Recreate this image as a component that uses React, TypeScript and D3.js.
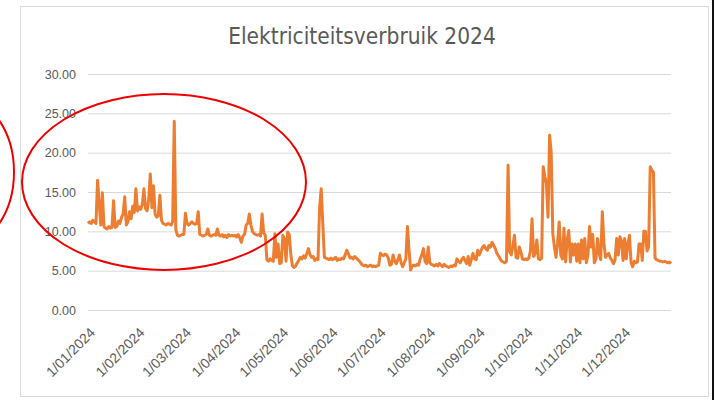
import React, { useEffect, useRef } from 'react';
import * as d3 from 'd3';

// daily consumption per month (kWh)
const jan = [11.0, 11.2, 11.0, 11.4, 11.2, 11.0, 16.5, 13.5, 10.8, 14.9, 10.6, 10.4, 10.3, 10.6, 10.4, 10.5, 13.9, 10.5, 10.6, 11.3, 11.0, 11.8, 12.2, 14.4, 10.8, 11.2, 12.5, 11.6, 13.2, 12.4, 15.4];
const feb = [12.6, 13.1, 12.8, 13.4, 15.4, 12.9, 12.6, 14.0, 17.3, 13.0, 15.8, 12.2, 11.8, 12.0, 14.6, 11.4, 11.0, 10.9, 10.8, 11.0, 10.9, 10.8, 11.2, 24.0, 10.2, 9.5, 9.4, 9.5, 9.6];
const mar = [9.6, 12.3, 11.0, 10.8, 11.0, 11.2, 11.0, 10.9, 11.0, 12.5, 9.6, 9.5, 9.4, 9.5, 9.6, 10.3, 9.5, 9.4, 9.5, 9.6, 9.5, 10.3, 9.5, 9.4, 9.6, 9.3, 9.5, 9.2, 9.6, 9.4, 9.5];
const apr = [9.4, 9.5, 9.3, 9.6, 9.2, 8.6, 9.4, 9.6, 10.8, 11.0, 12.2, 10.8, 10.0, 9.7, 9.6, 9.5, 9.6, 9.4, 12.2, 9.8, 9.5, 6.4, 6.2, 6.5, 6.3, 6.2, 9.7, 6.7, 8.4, 5.9];
const may = [6.0, 9.5, 9.0, 6.2, 9.9, 9.6, 7.0, 5.6, 5.4, 5.6, 6.0, 6.3, 6.7, 6.5, 6.9, 6.6, 7.2, 7.8, 7.0, 6.7, 6.8, 6.3, 6.5, 6.4, 13.0, 15.4, 11.0, 6.7, 6.6, 6.5, 6.4];
const jun = [6.6, 6.4, 6.5, 6.7, 6.3, 6.5, 6.4, 6.6, 6.5, 7.0, 7.6, 7.2, 6.6, 6.7, 6.5, 6.8, 6.6, 6.4, 6.2, 5.9, 5.7, 5.6, 5.7, 5.5, 5.6, 5.7, 5.5, 5.6, 5.5, 5.6];
const jul = [5.7, 7.2, 7.0, 6.9, 7.1, 7.0, 6.6, 5.7, 5.8, 7.0, 6.2, 5.9, 6.4, 7.0, 6.0, 5.5, 6.0, 6.5, 10.6, 7.6, 5.1, 5.6, 5.7, 5.6, 5.8, 5.7, 6.5, 7.0, 7.8, 6.2, 5.9];
const aug = [8.0, 6.0, 5.8, 5.7, 5.6, 5.8, 5.6, 5.9, 5.7, 5.5, 5.8, 5.6, 5.5, 5.4, 5.6, 5.5, 5.7, 5.6, 6.5, 6.2, 6.0, 6.4, 6.7, 6.3, 5.9, 6.8, 5.7, 6.4, 7.2, 6.5, 6.4];
const sep = [7.6, 7.0, 7.5, 8.0, 8.2, 7.8, 7.6, 8.2, 8.0, 8.6, 8.2, 7.8, 7.2, 6.9, 6.5, 6.2, 6.1, 6.0, 6.2, 18.4, 7.4, 7.0, 8.2, 9.5, 6.7, 6.6, 8.0, 7.4, 6.5, 6.4];
const oct = [6.5, 6.4, 6.6, 7.5, 11.6, 6.8, 7.2, 8.9, 6.5, 6.4, 6.6, 18.2, 17.0, 16.1, 11.8, 22.2, 20.0, 9.7, 8.0, 6.7, 8.5, 11.2, 7.0, 6.5, 10.4, 6.1, 8.9, 10.1, 6.1, 8.4, 7.0];
const nov = [8.4, 6.2, 8.4, 6.0, 8.9, 6.5, 9.1, 6.0, 7.0, 10.6, 8.0, 9.6, 6.0, 6.5, 9.1, 7.2, 6.4, 12.5, 8.5, 6.7, 7.0, 7.2, 6.6, 6.3, 5.9, 6.4, 9.1, 7.0, 9.3, 8.8];
const dec = [6.3, 9.1, 6.5, 8.4, 9.5, 6.0, 5.5, 6.2, 6.0, 6.1, 8.4, 8.4, 6.3, 10.0, 10.0, 7.5, 8.0, 18.2, 17.8, 17.5, 6.6, 6.4, 6.3, 6.2, 6.2, 6.1, 6.2, 6.1, 6.0, 6.1, 5.9];

const yTicks = [0, 5, 10, 15, 20, 25, 30];
const title = 'Elektriciteitsverbruik 2024';

const W = 716;
const H = 400;

export default function App() {
    const svgRef = useRef<SVGSVGElement>(null);

    useEffect(() => {
        if (!svgRef.current) return;
        const values = [...jan, ...feb, ...mar, ...apr, ...may, ...jun, ...jul, ...aug, ...sep, ...oct, ...nov, ...dec];
        const start = new Date(2024, 0, 1);
        const data = values.map((v, i) => ({ date: d3.timeDay.offset(start, i), value: v }));

        const svg = d3.select(svgRef.current);
        svg.selectAll('*').remove();

        const margin = { top: 74, right: 45, bottom: 90, left: 88 };
        const innerW = W - margin.left - margin.right;

        const x = d3.scaleTime()
            .domain([start, new Date(2024, 11, 31)])
            .range([margin.left, margin.left + 583]);
        const y = d3.scaleLinear()
            .domain([0, 30])
            .range([H - margin.bottom, margin.top]);

        // chart frame
        svg.append('rect')
            .attr('x', 20.5).attr('y', 6.5)
            .attr('width', 688).attr('height', 390)
            .attr('fill', '#fff')
            .attr('stroke', '#d9d9d9');

        svg.append('text')
            .attr('x', 362).attr('y', 44)
            .attr('text-anchor', 'middle')
            .attr('font-family', '"Liberation Sans Narrow", "DejaVu Sans Condensed", sans-serif')
            .attr('font-size', 22.5)
            .attr('fill', '#595959')
            .text(title);

        // y axis + gridlines
        const yAxis = svg.append('g')
            .attr('transform', `translate(${margin.left},0)`)
            .call(d3.axisLeft(y).tickValues(yTicks).tickFormat(d3.format('.2f')).tickSize(-innerW).tickPadding(12));
        yAxis.select('.domain').remove();
        yAxis.selectAll('line').attr('stroke', '#d9d9d9');
        yAxis.selectAll('text')
            .attr('fill', '#595959')
            .attr('font-family', '"Liberation Sans", Arial, sans-serif')
            .attr('font-size', 12.5);

        // x axis, one label per month
        const months = d3.timeMonth.range(start, new Date(2024, 11, 2));
        const xAxis = svg.append('g')
            .attr('transform', `translate(0,${H - margin.bottom})`)
            .call(d3.axisBottom(x).tickValues(months).tickFormat(d3.timeFormat('1/%m/%Y') as any).tickSize(0));
        xAxis.select('.domain').remove();
        xAxis.selectAll('text')
            .attr('fill', '#595959')
            .attr('font-family', '"Liberation Sans", Arial, sans-serif')
            .attr('font-size', 14)
            .attr('text-anchor', 'end')
            .attr('dy', '0.35em')
            .attr('transform', 'translate(2,18) rotate(-45)');

        const line = d3.line<{ date: Date; value: number }>()
            .x(d => x(d.date))
            .y(d => y(d.value));

        svg.append('path')
            .datum(data)
            .attr('fill', 'none')
            .attr('stroke', '#ED7D31')
            .attr('stroke-width', 3)
            .attr('stroke-linejoin', 'round')
            .attr('d', line);

        // red annotation marks
        svg.append('ellipse')
            .attr('cx', 164).attr('cy', 182).attr('rx', 142).attr('ry', 88)
            .attr('fill', 'none').attr('stroke', '#ee0000').attr('stroke-width', 2);
        svg.append('ellipse')
            .attr('cx', -40).attr('cy', 172).attr('rx', 54).attr('ry', 75)
            .attr('fill', 'none').attr('stroke', '#ee0000').attr('stroke-width', 2);

        svg.append('line')
            .attr('x1', 713).attr('x2', 713).attr('y1', 0).attr('y2', H)
            .attr('stroke', '#111').attr('stroke-width', 2);
    }, []);

    return (
        <svg ref={svgRef} width={W} height={H}
            style={{ position: 'absolute', left: 0, top: 0, background: '#fff' }} />
    );
}
